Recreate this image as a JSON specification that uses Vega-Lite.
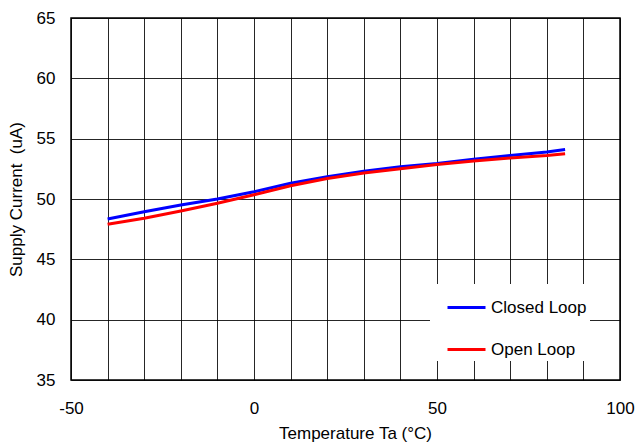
{
  "$schema": "https://vega.github.io/schema/vega-lite/v6.json",
  "width": 549,
  "height": 362,
  "autosize": "none",
  "padding": {"left": 71, "top": 18, "right": 17, "bottom": 64},
  "background": "white",
  "config": {
    "font": "Liberation Sans",
    "view": {"stroke": "black", "strokeWidth": 1.5},
    "axis": {
      "grid": true,
      "gridColor": "black",
      "gridOpacity": 0.85,
      "gridWidth": 1,
      "domain": false,
      "ticks": false,
      "tickSize": 0,
      "labelFont": "Liberation Sans",
      "labelFontSize": 17,
      "labelColor": "black",
      "titleFont": "Liberation Sans",
      "titleFontSize": 17,
      "titleFontWeight": "normal",
      "titleColor": "black"
    }
  },
  "data": {
    "values": [
      {"temp": -40, "current": 48.35, "series": "Closed Loop"},
      {"temp": -30, "current": 48.95, "series": "Closed Loop"},
      {"temp": -20, "current": 49.5, "series": "Closed Loop"},
      {"temp": -10, "current": 50.0, "series": "Closed Loop"},
      {"temp": 0, "current": 50.6, "series": "Closed Loop"},
      {"temp": 10, "current": 51.3, "series": "Closed Loop"},
      {"temp": 20, "current": 51.85, "series": "Closed Loop"},
      {"temp": 30, "current": 52.3, "series": "Closed Loop"},
      {"temp": 40, "current": 52.67, "series": "Closed Loop"},
      {"temp": 50, "current": 52.95, "series": "Closed Loop"},
      {"temp": 60, "current": 53.3, "series": "Closed Loop"},
      {"temp": 70, "current": 53.6, "series": "Closed Loop"},
      {"temp": 80, "current": 53.9, "series": "Closed Loop"},
      {"temp": 85, "current": 54.1, "series": "Closed Loop"},
      {"temp": -40, "current": 47.9, "series": "Open Loop"},
      {"temp": -30, "current": 48.4, "series": "Open Loop"},
      {"temp": -20, "current": 49.0, "series": "Open Loop"},
      {"temp": -10, "current": 49.65, "series": "Open Loop"},
      {"temp": 0, "current": 50.35, "series": "Open Loop"},
      {"temp": 10, "current": 51.1, "series": "Open Loop"},
      {"temp": 20, "current": 51.7, "series": "Open Loop"},
      {"temp": 30, "current": 52.15, "series": "Open Loop"},
      {"temp": 40, "current": 52.5, "series": "Open Loop"},
      {"temp": 50, "current": 52.85, "series": "Open Loop"},
      {"temp": 60, "current": 53.15, "series": "Open Loop"},
      {"temp": 70, "current": 53.4, "series": "Open Loop"},
      {"temp": 80, "current": 53.6, "series": "Open Loop"},
      {"temp": 85, "current": 53.75, "series": "Open Loop"}
    ]
  },
  "mark": {"type": "line", "strokeWidth": 3, "clip": true},
  "encoding": {
    "x": {
      "field": "temp",
      "type": "quantitative",
      "scale": {"domain": [-50, 100], "nice": false},
      "axis": {
        "title": "Temperature Ta (°C)",
        "values": [-50, -40, -30, -20, -10, 0, 10, 20, 30, 40, 50, 60, 70, 80, 90, 100],
        "labelExpr": "datum.value % 50 === 0 ? '' + datum.value : ''",
        "labelPadding": 20,
        "labelFlush": false,
        "labelOverlap": false,
        "titleX": 284,
        "titleY": 58,
        "titleBaseline": "alphabetic"
      }
    },
    "y": {
      "field": "current",
      "type": "quantitative",
      "scale": {"domain": [35, 65], "nice": false, "zero": false},
      "axis": {
        "title": "Supply Current \u00a0(uA)",
        "values": [35, 40, 45, 50, 55, 60, 65],
        "labelPadding": 16,
        "titleX": -50,
        "titleAngle": -90,
        "titleBaseline": "alphabetic"
      }
    },
    "color": {
      "field": "series",
      "type": "nominal",
      "scale": {"domain": ["Closed Loop", "Open Loop"], "range": ["#0000ff", "#ff0000"]},
      "legend": {
        "title": null,
        "orient": "none",
        "legendX": 359,
        "legendY": 266,
        "fillColor": "white",
        "padding": 3,
        "symbolOffset": 13,
        "symbolType": "stroke",
        "symbolSize": 1444,
        "symbolStrokeWidth": 3,
        "labelFontSize": 17,
        "labelColor": "black",
        "labelOffset": 4,
        "rowPadding": 13
      }
    }
  }
}
